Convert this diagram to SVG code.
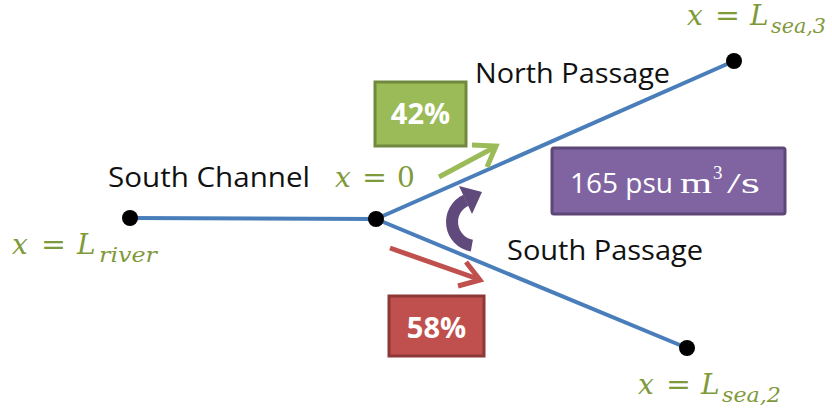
<svg xmlns="http://www.w3.org/2000/svg" width="832" height="410" viewBox="0 0 832 410">
  <style>
    .chan { stroke: #4a7ebb; stroke-width: 4; fill: none; stroke-linecap: round; }
    .node { fill: #000; }
    .label { font-family: "Open Sans", "Liberation Sans", sans-serif; font-size: 27px; fill: #111; }
    .math { font-family: "DejaVu Serif", "Liberation Serif", serif; font-size: 28px; fill: #7f9a3b; }
    .it { font-style: italic; }
    .sub { font-style: italic; font-size: 21px; }
    .boxtxt { font-family: "Open Sans", "Liberation Sans", sans-serif; font-size: 29px; font-weight: bold; fill: #fff; }
  </style>

  <!-- channel network -->
  <g id="connectors">
    <line class="chan" x1="130" y1="218" x2="376" y2="219"/>
    <line class="chan" x1="376" y1="219" x2="734" y2="61"/>
    <line class="chan" x1="376" y1="219" x2="687" y2="348"/>
  </g>

  <g id="node-river"><circle class="node" cx="130" cy="218" r="8"/></g>
  <g id="node-junction"><circle class="node" cx="376" cy="219" r="8"/></g>
  <g id="node-sea3"><circle class="node" cx="734" cy="61" r="8"/></g>
  <g id="node-sea2"><circle class="node" cx="687" cy="348" r="8"/></g>

  <!-- branch names -->
  <text class="label" x="108" y="187" textLength="202" lengthAdjust="spacingAndGlyphs">South Channel</text>
  <text class="label" x="475" y="83" textLength="195" lengthAdjust="spacingAndGlyphs">North Passage</text>
  <text class="label" x="507" y="260" textLength="196" lengthAdjust="spacingAndGlyphs">South Passage</text>

  <!-- coordinate labels -->
  <text class="math"><tspan class="it" x="335" y="187">x</tspan><tspan x="362" y="187" textLength="25" lengthAdjust="spacingAndGlyphs">=</tspan><tspan x="397" y="187">0</tspan></text>
  <text class="math"><tspan class="it" x="12" y="254">x</tspan><tspan x="41" y="254" textLength="25" lengthAdjust="spacingAndGlyphs">=</tspan><tspan class="it" x="77" y="254">L</tspan><tspan class="sub" x="99" y="262" textLength="58" lengthAdjust="spacingAndGlyphs">river</tspan></text>
  <text class="math"><tspan class="it" x="687" y="25">x</tspan><tspan x="715" y="25" textLength="25" lengthAdjust="spacingAndGlyphs">=</tspan><tspan class="it" x="750" y="25">L</tspan><tspan class="sub" x="771" y="33" textLength="55" lengthAdjust="spacingAndGlyphs">sea,3</tspan></text>
  <text class="math"><tspan class="it" x="638" y="394">x</tspan><tspan x="666" y="394" textLength="25" lengthAdjust="spacingAndGlyphs">=</tspan><tspan class="it" x="701" y="394">L</tspan><tspan class="sub" x="722" y="402" textLength="59" lengthAdjust="spacingAndGlyphs">sea,2</tspan></text>

  <!-- north passage share -->
  <g id="share-north">
    <rect x="375" y="82" width="91" height="64" fill="#9bbb59" stroke="#71893f" stroke-width="3"/>
    <text class="boxtxt" x="420.5" y="124" text-anchor="middle">42%</text>
  </g>
  <g id="arrow-north" fill="none" stroke="#9bbb59" stroke-width="5" stroke-linecap="butt">
    <line x1="439" y1="177" x2="495" y2="147"/>
    <polyline points="472,145 496,146 487,167"/>
  </g>

  <!-- south passage share -->
  <g id="share-south">
    <rect x="389" y="296" width="95" height="60" fill="#c0504d" stroke="#8c3836" stroke-width="3"/>
    <text class="boxtxt" x="436.5" y="338" text-anchor="middle">58%</text>
  </g>
  <g id="arrow-south" fill="none" stroke="#c0504d" stroke-width="5">
    <line x1="390" y1="248" x2="478" y2="279"/>
    <polyline points="466,262 480,280 458,286"/>
  </g>

  <!-- salt flux -->
  <g id="salt-flux">
    <rect x="552" y="148" width="233" height="66" rx="2" fill="#8064a2" stroke="#5c4776" stroke-width="3"/>
    <text y="193" fill="#fff"><tspan x="570" font-family="Open Sans, Liberation Sans, sans-serif" font-size="28" textLength="103" lengthAdjust="spacingAndGlyphs">165 psu</tspan><tspan x="680" font-family="Liberation Serif, DejaVu Serif, serif" font-size="30" textLength="32" lengthAdjust="spacingAndGlyphs">m</tspan><tspan x="713" y="179" font-family="Liberation Serif, DejaVu Serif, serif" font-size="19">3</tspan><tspan x="727" y="193" font-family="Liberation Serif, DejaVu Serif, serif" font-size="30" textLength="33" lengthAdjust="spacingAndGlyphs">/s</tspan></text>
  </g>

  <!-- exchange arrow between passages -->
  <g id="exchange-arrow" fill="#604a7b">
    <path d="M470.8,251.5 A30,30 0 0 1 463.3,194.8 L468.4,205.7 A18,18 0 0 0 472.9,239.7 Z"/>
    <polygon points="459,186 472,214 482,192"/>
  </g>
</svg>
